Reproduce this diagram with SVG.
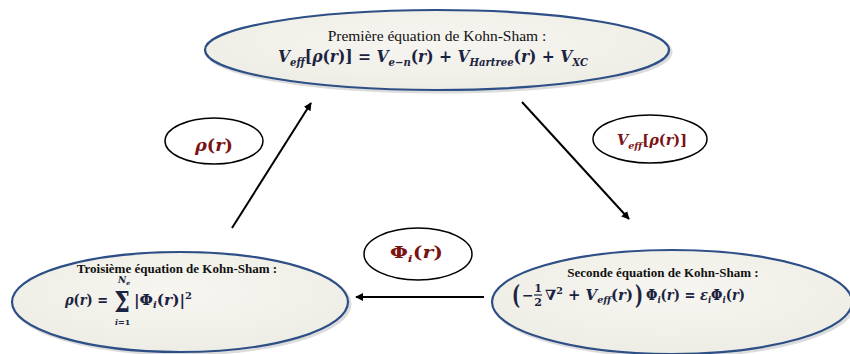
<svg xmlns="http://www.w3.org/2000/svg" width="850" height="354" viewBox="0 0 850 354">
<defs>
<radialGradient id="fillG" cx="0.5" cy="0.4" r="0.6">
<stop offset="0" stop-color="#f6f5f0"/>
<stop offset="1" stop-color="#eeede5"/>
</radialGradient>
<marker id="ah" viewBox="0 0 10 10" refX="9" refY="5" markerWidth="8" markerHeight="8" orient="auto" markerUnits="userSpaceOnUse">
<path d="M0,0 L10,5 L0,10 Z" fill="#000"/>
</marker>
</defs>
<style>
.big{fill:url(#fillG);stroke:#2d4f86;stroke-width:2.2}
.shadow{fill:none;stroke:#c4c4c4;stroke-width:3;opacity:0.6}
.small{fill:#fff;stroke:#000;stroke-width:1.5}
.ttl{font-family:"Liberation Serif",serif;font-size:15.5px;fill:#111;text-anchor:middle}
.ttlb{font-family:"Liberation Serif",serif;font-size:13px;font-weight:bold;fill:#111;text-anchor:middle}
.m{font-family:"DejaVu Serif",serif;font-weight:bold;font-style:italic;fill:#1b2340}
.u{font-style:normal}
.lab{font-family:"DejaVu Serif",serif;font-weight:bold;font-style:italic;fill:#7a1414}
.line{stroke:#000;stroke-width:2;fill:none}
</style>

<g id="connectors">
<line class="line" x1="232" y1="228" x2="311" y2="103" marker-end="url(#ah)"/>
<line class="line" x1="522" y1="102" x2="629" y2="219" marker-end="url(#ah)"/>
<line class="line" x1="484" y1="297" x2="356" y2="297" marker-end="url(#ah)"/>
</g>

<g id="node-first">
<ellipse class="shadow" cx="439" cy="52" rx="232" ry="40"/>
<ellipse class="big" cx="437" cy="50" rx="232" ry="40"/>
<text class="ttl" x="437" y="41">Première équation de Kohn-Sham :</text>
<text class="m" x="278" y="62" font-size="17" textLength="310" lengthAdjust="spacingAndGlyphs">V<tspan font-size="11" dy="4">eff</tspan><tspan class="u" dy="-4">[</tspan>ρ<tspan class="u">(</tspan>r<tspan class="u">)] = </tspan>V<tspan font-size="11" dy="4">e−n</tspan><tspan class="u" dy="-4">(</tspan>r<tspan class="u">) + </tspan>V<tspan font-size="11" dy="4">Hartree</tspan><tspan class="u" dy="-4">(</tspan>r<tspan class="u">) + </tspan>V<tspan font-size="11" dy="4">XC</tspan></text>
</g>

<g id="node-second">
<ellipse class="shadow" cx="674" cy="304" rx="180" ry="52"/>
<ellipse class="big" cx="672" cy="302" rx="180" ry="52"/>
<text class="ttlb" x="663" y="277">Seconde équation de Kohn-Sham :</text>
<text class="m u" font-size="20" font-weight="normal" transform="translate(512,304) scale(0.85,1.3)">(</text>
<text class="m u" x="522" y="300" font-size="14">−</text>
<text class="m u" x="538" y="292" font-size="11" text-anchor="middle">1</text>
<line x1="534" y1="295" x2="542" y2="295" stroke="#1b2340" stroke-width="1.2"/>
<text class="m u" x="538" y="306" font-size="11" text-anchor="middle">2</text>
<text class="m" x="545" y="300" font-size="14" textLength="88" lengthAdjust="spacingAndGlyphs"><tspan class="u">∇</tspan><tspan class="u" font-size="9" dy="-6">2</tspan><tspan class="u" dy="6"> + </tspan>V<tspan font-size="9" dy="3">eff</tspan><tspan class="u" dy="-3">(</tspan>r<tspan class="u">)</tspan></text>
<text class="m u" font-size="20" font-weight="normal" transform="translate(635,304) scale(0.85,1.3)">)</text>
<text class="m" x="646" y="300" font-size="14" textLength="99" lengthAdjust="spacingAndGlyphs"><tspan class="u">Φ</tspan><tspan font-size="9" dy="3">i</tspan><tspan class="u" dy="-3">(</tspan>r<tspan class="u">) = </tspan>ε<tspan font-size="9" dy="3">i</tspan><tspan class="u" dy="-3">Φ</tspan><tspan font-size="9" dy="3">i</tspan><tspan class="u" dy="-3">(</tspan>r<tspan class="u">)</tspan></text>
</g>

<g id="node-third">
<ellipse class="shadow" cx="182" cy="304" rx="168" ry="50"/>
<ellipse class="big" cx="180" cy="302" rx="168" ry="50"/>
<text class="ttlb" x="177" y="273">Troisième équation de Kohn-Sham :</text>
<text class="m" x="65" y="305" font-size="14" textLength="43" lengthAdjust="spacingAndGlyphs">ρ<tspan class="u">(</tspan>r<tspan class="u">) =</tspan></text>
<text class="m u" font-size="22" text-anchor="middle" transform="translate(122,312) scale(1,1.3)">Σ</text>
<text class="m" x="118" y="283" font-size="9">N<tspan font-size="6" dy="2">e</tspan></text>
<text class="m" x="115" y="325" font-size="8">i<tspan class="u">=1</tspan></text>
<text class="m" x="134" y="305" font-size="14" textLength="58" lengthAdjust="spacingAndGlyphs"><tspan class="u">|Φ</tspan><tspan font-size="9" dy="3">i</tspan><tspan class="u" dy="-3">(</tspan>r<tspan class="u">)|</tspan><tspan class="u" font-size="9" dy="-6">2</tspan></text>
</g>

<g id="label-rho">
<ellipse class="small" cx="214" cy="141" rx="49" ry="23"/>
<text class="lab" x="195" y="151" font-size="16" textLength="38" lengthAdjust="spacingAndGlyphs">ρ<tspan class="u">(</tspan>r<tspan class="u">)</tspan></text>
</g>

<g id="label-veff">
<ellipse class="small" cx="650" cy="139" rx="57" ry="24"/>
<text class="lab" x="617" y="145" font-size="15" textLength="70" lengthAdjust="spacingAndGlyphs">V<tspan font-size="10" dy="4">eff</tspan><tspan class="u" dy="-4">[</tspan>ρ<tspan class="u">(</tspan>r<tspan class="u">)]</tspan></text>
</g>

<g id="label-phi">
<ellipse class="small" cx="418" cy="254" rx="54" ry="26"/>
<text class="lab" x="390" y="258" font-size="16" textLength="53" lengthAdjust="spacingAndGlyphs"><tspan class="u">Φ</tspan><tspan font-size="10" dy="4">i</tspan><tspan class="u" dy="-4">(</tspan>r<tspan class="u">)</tspan></text>
</g>
</svg>
